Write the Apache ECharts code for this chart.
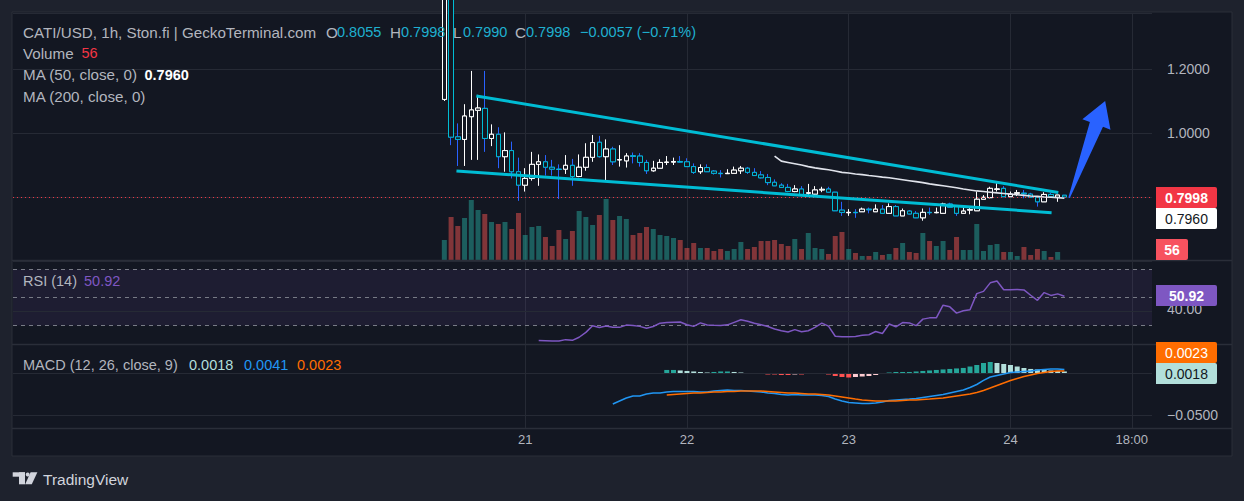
<!DOCTYPE html>
<html><head><meta charset="utf-8">
<script src="https://cdn.jsdelivr.net/npm/echarts@6/dist/echarts.min.js"></script>
<style>html,body{margin:0;padding:0;background:#1e222d;overflow:hidden}#c{width:1244px;height:501px}</style>
</head><body><div id="c"></div>
<script>
// ---- time frame (hours relative to day 21 00:00) ----
const firstHour = -12;          // first candle: 20th 12:00
const axisStartHour = -76, axisEndHour = 93;
const timeLabels = ['21', '22', '23', '24', '18:00'];
const priceTicks = ['1.2000', '1.0000'];

// ---- candles ----
const opens = [1.105,1.62,0.988,0.980,1.051,1.071,1.077,0.983,0.996,0.926,
0.945,0.879,0.837,0.858,0.902,0.910,0.893,0.887,0.887,0.899,
0.864,0.893,0.924,0.971,0.926,0.950,0.916,0.913,0.929,0.928,
0.908,0.882,0.890,0.908,0.909,0.911,0.910,0.895,0.879,0.892,
0.881,0.874,0.873,0.874,0.882,0.890,0.877,0.869,0.861,0.846,
0.837,0.830,0.817,0.825,0.812,0.809,0.822,0.825,0.815,0.759,
0.751,0.752,0.754,0.762,0.754,0.762,0.749,0.770,0.741,0.756,
0.749,0.735,0.752,0.751,0.749,0.778,0.770,0.749,0.759,0.757,
0.793,0.798,0.824,0.827,0.801,0.812,0.812,0.809,0.799,0.785,
0.808,0.799,0.8055];
const closes = [1.62,0.987,0.980,1.053,1.072,1.078,0.983,0.996,0.926,0.945,
0.879,0.837,0.858,0.902,0.910,0.893,0.887,0.886,0.899,0.864,
0.893,0.924,0.970,0.926,0.950,0.910,0.917,0.928,0.927,0.908,
0.882,0.890,0.908,0.909,0.911,0.909,0.895,0.877,0.892,0.879,
0.874,0.873,0.874,0.884,0.890,0.877,0.867,0.860,0.845,0.835,
0.830,0.817,0.825,0.806,0.813,0.822,0.824,0.815,0.757,0.752,
0.752,0.751,0.762,0.760,0.762,0.749,0.770,0.741,0.757,0.747,
0.735,0.752,0.751,0.752,0.778,0.768,0.749,0.756,0.761,0.793,
0.799,0.827,0.825,0.801,0.809,0.813,0.810,0.799,0.785,0.808,
0.801,0.806,0.7998];
const lows = [1.10,0.962,0.897,0.897,0.916,0.916,0.941,0.959,0.890,0.879,
0.858,0.788,0.817,0.851,0.835,0.867,0.867,0.794,0.872,0.835,
0.862,0.882,0.910,0.923,0.853,0.900,0.895,0.892,0.905,0.895,
0.872,0.879,0.890,0.900,0.900,0.907,0.895,0.872,0.872,0.878,
0.870,0.861,0.872,0.874,0.872,0.872,0.866,0.858,0.837,0.834,
0.828,0.815,0.815,0.804,0.806,0.806,0.815,0.813,0.756,0.741,
0.741,0.735,0.754,0.749,0.754,0.749,0.749,0.741,0.741,0.746,
0.734,0.726,0.744,0.749,0.749,0.768,0.741,0.749,0.746,0.757,
0.793,0.796,0.817,0.801,0.801,0.803,0.796,0.799,0.770,0.785,
0.801,0.785,0.7990];
const highs = [1.65,1.65,1.030,1.090,1.194,1.119,1.194,1.027,1.018,1.002,
0.973,0.923,0.890,0.941,0.933,0.931,0.916,0.902,0.931,0.919,
0.933,0.968,0.994,0.991,0.980,0.957,0.962,0.937,0.939,0.937,
0.916,0.913,0.918,0.928,0.923,0.928,0.921,0.905,0.902,0.902,
0.884,0.884,0.887,0.895,0.897,0.894,0.890,0.881,0.872,0.855,
0.843,0.841,0.837,0.834,0.841,0.834,0.832,0.832,0.816,0.785,
0.762,0.762,0.767,0.767,0.777,0.775,0.780,0.775,0.764,0.759,
0.756,0.764,0.767,0.767,0.782,0.782,0.770,0.775,0.767,0.817,
0.806,0.832,0.843,0.834,0.817,0.822,0.822,0.813,0.801,0.815,
0.813,0.806,0.8055];
const volumes = [1176,2464,1960,2408,3416,2856,2632,2184,2072,2184,
1792,2688,1456,1904,1960,1344,840,1736,1232,1680,
2800,2464,2016,2576,3472,2296,2520,2352,1456,1568,
1904,1792,1456,1400,1288,1176,728,1008,728,728,
560,672,560,672,1064,672,784,1120,1120,1176,
952,840,1232,672,1568,728,672,392,1400,1624,
672,448,280,280,504,336,392,728,1008,504,
448,1568,1120,840,1120,616,1344,616,616,2072,
560,896,952,504,504,280,784,336,672,560,
224,504,56];

// ---- indicators (value arrays start at the given candle index) ----
const ma50Start = 49;
const ma50 = [0.928,0.912,0.908,0.904,0.900,0.895,0.891,0.888,0.885,0.881,
0.877,0.875,0.872,0.870,0.867,0.865,0.862,0.860,0.857,0.854,
0.851,0.848,0.845,0.841,0.838,0.835,0.832,0.829,0.825,0.822,
0.819,0.817,0.815,0.813,0.811,0.809,0.807,0.805,0.803,0.802,
0.800,0.799,0.798,0.796];
const rsiStart = 14;
const rsi = [19.2,19.0,18.8,18.8,19.8,19.3,21.5,25.0,29.8,28.5,
29.6,28.7,28.6,30.2,29.9,29.3,28.0,29.2,31.6,32.0,
32.2,32.4,30.5,29.3,31.8,30.3,30.1,30.0,30.4,32.2,
34.0,33.0,31.6,30.5,29.2,27.4,26.2,25.3,27.0,25.4,
26.2,28.6,31.6,29.5,22.2,21.8,21.9,22.1,22.9,23.3,
25.6,24.2,31.0,29.0,32.0,31.8,29.8,34.5,35.4,35.4,
44.5,43.3,38.8,40.5,41.2,52.8,54.4,60.5,61.8,55.5,
55.6,55.8,55.4,51.6,48.0,53.5,51.5,52.6,50.92];
const macdStart = 25;
const macd = [-0.0369,-0.0333,-0.0298,-0.0274,-0.0274,-0.0250,-0.0238,-0.0238,
-0.0226,-0.0220,-0.0220,-0.0220,-0.0220,-0.0226,-0.0226,-0.0214,-0.0208,-0.0202,
-0.0208,-0.0208,-0.0214,-0.0220,-0.0226,-0.0238,-0.0244,-0.0256,-0.0262,-0.0256,
-0.0262,-0.0262,-0.0262,-0.0268,-0.0280,-0.0310,-0.0333,-0.0351,-0.0357,-0.0363,
-0.0363,-0.0357,-0.0345,-0.0327,-0.0321,-0.0315,-0.0310,-0.0304,-0.0292,-0.0280,
-0.0268,-0.0256,-0.0238,-0.0220,-0.0202,-0.0173,-0.0137,-0.0089,-0.0048,-0.0030,
-0.0012,0.0006,0.0012,0.0018,0.0024,0.0036,0.0042,0.0048,0.0048,0.0041];
const signalStart = 33;
const signal = [-0.0262,-0.0256,-0.0250,-0.0244,-0.0238,-0.0238,-0.0232,-0.0226,-0.0226,-0.0220,
-0.0220,-0.0214,-0.0214,-0.0214,-0.0214,-0.0220,-0.0226,-0.0232,-0.0238,-0.0238,
-0.0244,-0.0250,-0.0250,-0.0256,-0.0262,-0.0274,-0.0286,-0.0298,-0.0310,-0.0321,
-0.0327,-0.0333,-0.0333,-0.0333,-0.0333,-0.0327,-0.0321,-0.0321,-0.0315,-0.0310,
-0.0304,-0.0298,-0.0286,-0.0274,-0.0262,-0.0250,-0.0232,-0.0208,-0.0179,-0.0149,
-0.0119,-0.0089,-0.0065,-0.0042,-0.0024,-0.0006,0.0006,0.0018,0.0024,0.0023];
const hist = [0.0036,0.0036,0.0030,0.0024,0.0018,0.0012,0.0006,0.0012,0.0018,0.0018,
0.0012,0.0006,0.0000,-0.0006,-0.0012,-0.0018,-0.0018,-0.0024,-0.0024,-0.0018,
-0.0018,-0.0012,-0.0012,-0.0012,-0.0018,-0.0036,-0.0048,-0.0054,-0.0048,-0.0042,
-0.0036,-0.0024,-0.0012,0.0006,0.0012,0.0012,0.0012,0.0018,0.0024,0.0030,
0.0036,0.0042,0.0048,0.0054,0.0060,0.0077,0.0095,0.0119,0.0131,0.0119,
0.0107,0.0095,0.0077,0.0060,0.0048,0.0042,0.0036,0.0030,0.0024,0.0018];

// ---- drawings (hour, price) ----
const trendUpper = [[-7.25, 1.1156], [79.1, 0.8141]];
const trendLower = [[-10.2, 0.8813], [78.1, 0.7509]];
const arrowTail = [80.7, 0.7978], arrowTip = [86.05, 1.100];
const lastPrice = 0.7998, lastHigh = 0.7998, lastMA = 0.7960, lastVol = 56, lastRsi = 50.92;
const lastMacd = 0.0041, lastSignal = 0.0023, lastHist = 0.0018;
const changeText = '\u22120.0057 (\u22120.71%)';

// ---------------------------------------------------------------
const FONT = '"Liberation Sans", Arial, sans-serif';
const BG = '#131722', GRID = '#262a35', TXT = '#b2b5be', VAL = '#1fb0d0';
const cats = [];
for (let h = axisStartHour; h <= axisEndHour; h++) {
  const d = 21 + Math.floor(h / 24), hh = ((h % 24) + 24) % 24;
  cats.push(d + ' ' + String(hh).padStart(2, '0') + ':00');
}
const off = firstHour - axisStartHour;
function pad(arr, start) {
  return cats.map((_, k) => { const i = k - off - start; return (i >= 0 && i < arr.length) ? arr[i] : '-'; });
}
const labelOf = v => { const p = v.split(' '); return p[1] === '00:00' ? p[0] : p[1]; };
const showTick = (idx, v) => timeLabels.indexOf(labelOf(v)) >= 0 && (labelOf(v) !== '18:00' || v.startsWith('24'));

const wickData = pad(opens.map((o, i) => [o, closes[i], lows[i], highs[i]]), 0);
const bodyData = pad(opens.map((o, i) => [o, closes[i], Math.min(o, closes[i]), Math.max(o, closes[i])]), 0);
const volData = pad(volumes.map((v, i) => ({ value: v, itemStyle: { color: closes[i] >= opens[i] ? 'rgba(38,166,154,0.5)' : 'rgba(239,83,80,0.5)' } })), 0);
const histData = pad(hist.map((v, i) => {
  const p = i > 0 ? hist[i - 1] : v;
  const c = v >= 0 ? (v >= p ? '#26a69a' : '#b2dfdb') : (v <= p ? '#ff5252' : '#ffcdd2');
  return { value: v, itemStyle: { color: c } };
}), signalStart);

const gridL = 13, gridR = 92;
function xCat(gi, labels) {
  return {
    type: 'category', gridIndex: gi, data: cats, boundaryGap: false,
    axisLine: { show: false }, axisTick: { show: false },
    axisLabel: { show: labels, interval: showTick, formatter: labelOf, color: TXT, fontSize: 13, fontFamily: FONT, margin: 5 },
    splitLine: { show: true, interval: showTick, lineStyle: { color: GRID, width: 1 } }
  };
}
const hiddenY = (gi, min, max) => ({ type: 'value', gridIndex: gi, min, max, show: false, splitLine: { show: false } });

const chart = echarts.init(document.getElementById('c'), null, { renderer: 'svg', width: 1244, height: 501 });
chart.setOption({
  backgroundColor: '#1e222d',
  animation: false,
  grid: [
    { left: gridL, right: gridR, top: 13, height: 248 },
    { left: gridL, right: gridR, top: 261, height: 83 },
    { left: gridL, right: gridR, top: 345, height: 83 }
  ],
  xAxis: [
    xCat(0, false),
    { type: 'value', gridIndex: 0, min: axisStartHour, max: axisEndHour, show: false, splitLine: { show: false } },
    xCat(1, false),
    xCat(2, true)
  ],
  yAxis: [
    { type: 'value', gridIndex: 0, position: 'right', min: 0.6, max: 1.375, interval: 0.2,
      axisLine: { show: false }, axisTick: { show: false },
      axisLabel: { color: TXT, fontSize: 14, fontFamily: FONT, margin: 15,
        formatter: v => priceTicks.indexOf(v.toFixed(4)) >= 0 ? v.toFixed(4) : '' },
      splitLine: { lineStyle: { color: GRID } } },
    hiddenY(0, 0, 13888),
    hiddenY(1, 16.67, 76.16),
    hiddenY(2, -0.0655, 0.0333)
  ],
  series: [
    { type: 'bar', name: 'Volume', xAxisIndex: 0, yAxisIndex: 1, data: volData, barWidth: 5, z: 1 },
    { type: 'candlestick', name: 'wick', xAxisIndex: 0, yAxisIndex: 0, data: wickData, barWidth: 5, z: 3,
      itemStyle: { color: BG, color0: BG, borderColor: '#ffffff', borderColor0: '#2962ff', borderWidth: 1 } },
    { type: 'candlestick', name: 'CATI/USD', xAxisIndex: 0, yAxisIndex: 0, data: bodyData, barWidth: 5, z: 4,
      itemStyle: { color: BG, color0: BG, borderColor: '#ffffff', borderColor0: '#00bcd4', borderWidth: 1 },
      markLine: { silent: true, symbol: ['none', 'none'], label: { show: false },
        lineStyle: { type: [1, 3], color: '#f23645', width: 1 }, data: [{ yAxis: lastPrice }] } },
    { type: 'line', name: 'MA50', xAxisIndex: 0, yAxisIndex: 0, data: pad(ma50, ma50Start), showSymbol: false, symbol: 'none',
      lineStyle: { color: '#e0e3eb', width: 1.6 }, z: 5 },
    { type: 'line', name: 'trendUpper', xAxisIndex: 1, yAxisIndex: 0, data: trendUpper, symbol: 'none',
      lineStyle: { color: '#00bcd4', width: 3 }, z: 6 },
    { type: 'line', name: 'trendLower', xAxisIndex: 1, yAxisIndex: 0, data: trendLower, symbol: 'none',
      lineStyle: { color: '#00bcd4', width: 3 }, z: 6 },
    { type: 'line', name: 'RSI', xAxisIndex: 2, yAxisIndex: 2, data: pad(rsi, rsiStart), symbol: 'none',
      lineStyle: { color: '#7e57c2', width: 1.5 }, z: 5,
      markArea: { silent: true, itemStyle: { color: 'rgba(126,87,194,0.1)' }, data: [[{ yAxis: 30 }, { yAxis: 70 }]] },
      markLine: { silent: true, symbol: ['none', 'none'], label: { show: false },
        data: [
          { yAxis: 40, lineStyle: { type: 'solid', color: GRID, width: 1 } },
          { yAxis: 70, lineStyle: { type: [4, 4], color: '#787b86', width: 1 } },
          { yAxis: 50, lineStyle: { type: [4, 4], color: '#787b86', width: 1 } },
          { yAxis: 30, lineStyle: { type: [4, 4], color: '#787b86', width: 1 } }
        ] } },
    { type: 'bar', name: 'Histogram', xAxisIndex: 3, yAxisIndex: 3, data: histData, barWidth: 5, z: 3,
      markLine: { silent: true, symbol: ['none', 'none'], label: { show: false },
        lineStyle: { type: 'solid', color: GRID, width: 1 }, data: [{ yAxis: 0 }, { yAxis: -0.05 }] } },
    { type: 'line', name: 'MACD', xAxisIndex: 3, yAxisIndex: 3, data: pad(macd, macdStart), symbol: 'none',
      lineStyle: { color: '#2196f3', width: 1.5 }, z: 5 },
    { type: 'line', name: 'Signal', xAxisIndex: 3, yAxisIndex: 3, data: pad(signal, signalStart), symbol: 'none',
      lineStyle: { color: '#ff6d00', width: 1.5 }, z: 5 }
  ]
});

// ---------- overlays: legends, price tags, arrow, logo ----------
function T(x, y, text, fill, size, weight, align) {
  return { type: 'text', x, y, z: 100, silent: true,
    style: { text, fill, fontSize: size || 14, fontFamily: FONT, fontWeight: weight || 'normal', align: align || 'left', verticalAlign: 'middle' } };
}
function tag(yc, w, fill, text, color, weight) {
  const x0 = 1156, h = 21;
  return [
    { type: 'rect', z: 101, silent: true, shape: { x: x0, y: Math.round(yc - h / 2), width: w, height: h, r: [0, 2, 2, 0] }, style: { fill } },
    { ...T(x0 + w / 2, yc + 0.5, text, color, 14, weight || 'normal', 'center'), z: 102 }
  ];
}
const py = v => chart.convertToPixel({ yAxisIndex: 0 }, v);
const ry = v => chart.convertToPixel({ yAxisIndex: 2 }, v);
const my = v => chart.convertToPixel({ yAxisIndex: 3 }, v);
const hx = v => chart.convertToPixel({ xAxisIndex: 1 }, v);

const tailP = [hx(arrowTail[0]), py(arrowTail[1])], tipP = [hx(arrowTip[0]), py(arrowTip[1])];
const dx = tipP[0] - tailP[0], dy = tipP[1] - tailP[1], L = Math.hypot(dx, dy);
const ux = dx / L, uy = dy / L, nx = -uy, ny = ux;
const B = [tipP[0] - ux * 25, tipP[1] - uy * 25];
const pt = (p, k) => [p[0] + nx * k, p[1] + ny * k];
const arrowPts = [pt(tailP, -0.8), pt(B, -7), pt(B, -15), tipP, pt(B, 15), pt(B, 7), pt(tailP, 0.8)];

const LS = 15.2;   // legend font size
const yPrice = py(lastPrice);
const g = [
  { type: 'rect', z: -5, silent: true, shape: { x: 12, y: 12, width: 1220, height: 444 }, style: { fill: BG, stroke: '#2a2e39', lineWidth: 1 } },
  { type: 'line', z: 50, silent: true, shape: { x1: 12, y1: 260.5, x2: 1232, y2: 260.5 }, style: { stroke: '#2a2e39', lineWidth: 1.5 } },
  { type: 'line', z: 50, silent: true, shape: { x1: 12, y1: 344.5, x2: 1232, y2: 344.5 }, style: { stroke: '#2a2e39', lineWidth: 1.5 } },
  { type: 'line', z: 50, silent: true, shape: { x1: 12, y1: 428.5, x2: 1232, y2: 428.5 }, style: { stroke: '#2a2e39', lineWidth: 1.5 } },
  { type: 'polygon', z: 60, silent: true, shape: { points: arrowPts }, style: { fill: '#2962ff' } },
  // legends
  T(23, 32, 'CATI/USD, 1h, Ston.fi | GeckoTerminal.com', TXT, LS),
  T(326, 32, 'O', TXT, LS), T(337, 32, opens[opens.length - 1].toFixed(4), VAL, 14.5),
  T(390, 32, 'H', TXT, LS), T(401, 32, lastHigh.toFixed(4), VAL, 14.5),
  T(453, 32, 'L', TXT, LS), T(463, 32, lows[lows.length - 1].toFixed(4), VAL, 14.5),
  T(515, 32, 'C', TXT, LS), T(526, 32, closes[closes.length - 1].toFixed(4), VAL, 14.5),
  T(580, 32, changeText, VAL, 14.5),
  T(23, 53, 'Volume', TXT, LS), T(81.5, 53, String(lastVol), '#f23645', 14.5),
  T(23, 74.5, 'MA (50, close, 0)', TXT, LS), T(144.5, 74.5, lastMA.toFixed(4), '#ffffff', 14.5, 'bold'),
  T(23, 96, 'MA (200, close, 0)', TXT, LS),
  T(23, 281, 'RSI (14)', TXT, 14.5), T(84, 281, lastRsi.toFixed(2), '#7e57c2', 14.5),
  T(23, 364.5, 'MACD (12, 26, close, 9)', TXT, 14.5),
  T(189, 364.5, lastHist.toFixed(4), '#b2dfdb', 14.5), T(244, 364.5, lastMacd.toFixed(4), '#2196f3', 14.5), T(297, 364.5, lastSignal.toFixed(4), '#ff6d00', 14.5),
  // axis texts in indicator panes
  T(1167, ry(40) - 2, '40.00', TXT, 14),
  T(1167, my(-0.05), '\u22120.0500', TXT, 14),
  // logo
  { type: 'rect', z: 10, silent: true, shape: { x: 12.7, y: 472.3, width: 12.3, height: 4.4 }, style: { fill: '#d1d4dc' } },
  { type: 'rect', z: 10, silent: true, shape: { x: 19, y: 472.3, width: 6, height: 12 }, style: { fill: '#d1d4dc' } },
  { type: 'circle', z: 10, silent: true, shape: { cx: 27.7, cy: 474.6, r: 2 }, style: { fill: '#d1d4dc' } },
  { type: 'polygon', z: 10, silent: true, shape: { points: [[30.6, 472.3], [37.4, 472.3], [31.8, 484.3], [25.2, 484.3]] }, style: { fill: '#d1d4dc' } },
  T(43, 479, 'TradingView', '#d1d4dc', 15.5, 'normal')
];
g.push(...tag(yPrice, 61, '#f23645', lastPrice.toFixed(4), '#ffffff', 'bold'));
g.push(...tag(yPrice + 21, 61, '#ffffff', lastMA.toFixed(4), '#131722'));
g.push(...tag(249.5, 32, '#f7525f', String(lastVol), '#ffffff', 'bold'));
g.push(...tag(ry(lastRsi) - 1, 61, '#7e57c2', lastRsi.toFixed(2), '#ffffff', 'bold'));
g.push(...tag(352.5, 61, '#ff6d00', lastSignal.toFixed(4), '#ffffff'));
g.push(...tag(373, 61, '#b2dfdb', lastHist.toFixed(4), '#131722'));
chart.setOption({ graphic: { elements: g } });
</script></body></html>
